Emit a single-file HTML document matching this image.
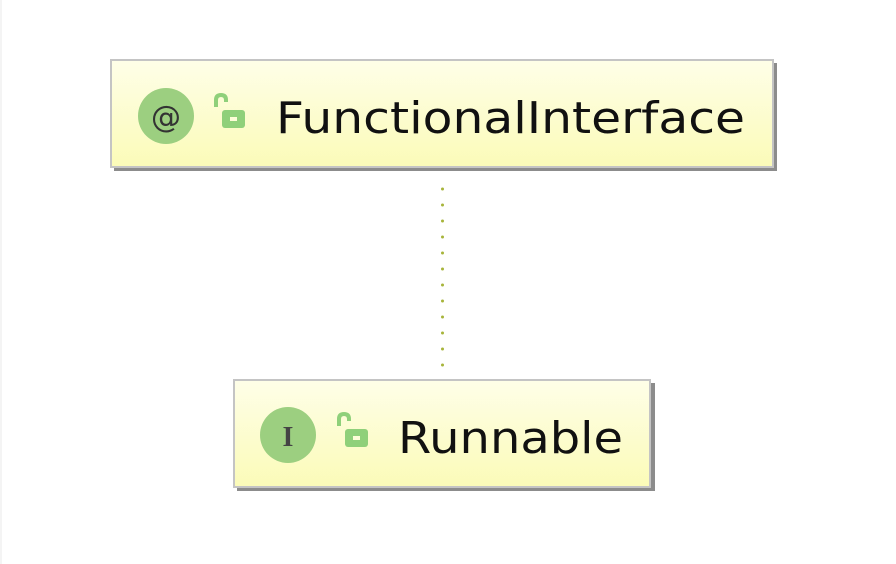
<!DOCTYPE html>
<html><head><meta charset="utf-8"><style>
html,body{margin:0;padding:0;background:#fff;}
svg{display:block}
</style></head><body>
<svg width="896" height="564" viewBox="0 0 896 564" xmlns="http://www.w3.org/2000/svg">
<defs>
<linearGradient id="g" x1="0" y1="0" x2="0" y2="1">
<stop offset="0" stop-color="#fefee8"/><stop offset="1" stop-color="#fbfbb8"/>
</linearGradient>
</defs>
<rect x="0" y="0" width="2" height="564" fill="#f4f4f4"/>
<!-- box 1 -->
<rect x="114" y="63" width="663" height="108" fill="#8c8c8c"/>
<rect x="111" y="60" width="662" height="107" fill="url(#g)" stroke="#c4c4c4" stroke-width="2"/>
<circle cx="166" cy="116" r="28" fill="#9ccf80"/>
<text x="166" y="127" font-family="DejaVu Sans, sans-serif" font-size="30" fill="#333" text-anchor="middle">@</text>
<path d="M216 107 v-7 q0-5 5-5 q5 0 5 5 v2" fill="none" stroke="#8fd07a" stroke-width="4"/>
<rect x="222" y="110" width="23" height="18" rx="3" fill="#8fd07a"/>
<rect x="230" y="117" width="7" height="4" fill="#fdfdd8"/>
<text x="276" y="133" font-family="DejaVu Sans, sans-serif" font-size="44" fill="#111" textLength="469" lengthAdjust="spacingAndGlyphs">FunctionalInterface</text>
<!-- dots -->
<g fill="#a7b43a">
<circle cx="442.5" cy="189" r="1.5"/><circle cx="442.5" cy="205" r="1.5"/><circle cx="442.5" cy="221" r="1.5"/><circle cx="442.5" cy="237" r="1.5"/><circle cx="442.5" cy="253" r="1.5"/><circle cx="442.5" cy="269" r="1.5"/><circle cx="442.5" cy="285" r="1.5"/><circle cx="442.5" cy="301" r="1.5"/><circle cx="442.5" cy="317" r="1.5"/><circle cx="442.5" cy="333" r="1.5"/><circle cx="442.5" cy="349" r="1.5"/><circle cx="442.5" cy="365" r="1.5"/>
</g>
<!-- box 2 -->
<rect x="237" y="383" width="418" height="108" fill="#8c8c8c"/>
<rect x="234" y="380" width="416" height="107" fill="url(#g)" stroke="#c4c4c4" stroke-width="2"/>
<circle cx="288" cy="435" r="28" fill="#9ccf80"/>
<text x="288" y="446" font-family="Liberation Serif, serif" font-size="28" font-weight="bold" fill="#444" text-anchor="middle">I</text>
<path d="M339 426 v-7 q0-5 5-5 q5 0 5 5 v2" fill="none" stroke="#8fd07a" stroke-width="4"/>
<rect x="345" y="429" width="23" height="18" rx="3" fill="#8fd07a"/>
<rect x="353" y="436" width="7" height="4" fill="#fdfdd8"/>
<text x="398" y="453" font-family="DejaVu Sans, sans-serif" font-size="44" fill="#111" textLength="225" lengthAdjust="spacingAndGlyphs">Runnable</text>
</svg>
</body></html>
